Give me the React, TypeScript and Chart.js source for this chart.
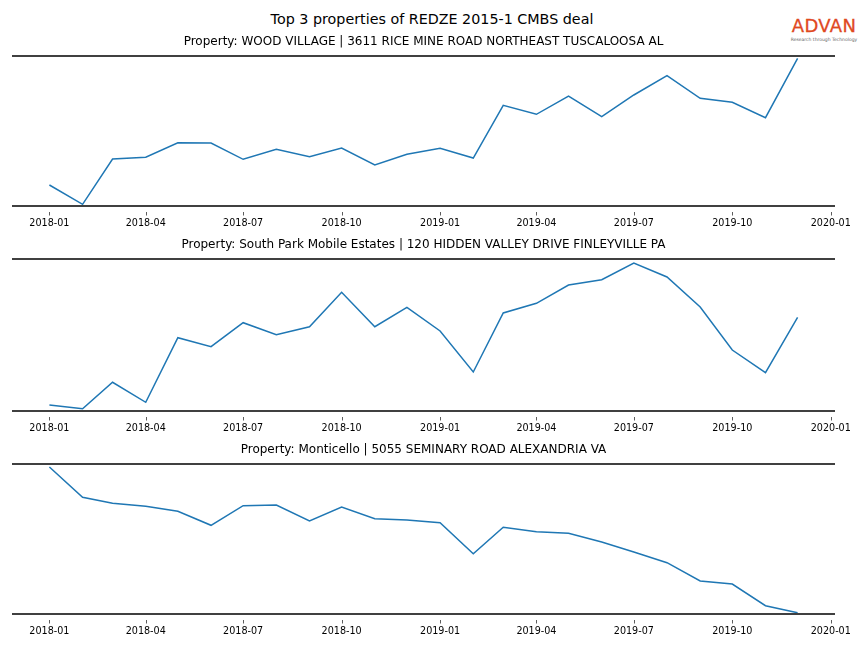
import React, { useEffect, useRef } from "react";
import { Chart, registerables } from "chart.js";

Chart.register(...registerables);

const months = [
  "2018-01", "2018-02", "2018-03", "2018-04", "2018-05", "2018-06",
  "2018-07", "2018-08", "2018-09", "2018-10", "2018-11", "2018-12",
  "2019-01", "2019-02", "2019-03", "2019-04", "2019-05", "2019-06",
  "2019-07", "2019-08", "2019-09", "2019-10", "2019-11", "2019-12",
];

const woodVillage = [
  21, 1.7, 47, 48.7, 63.3, 63, 46.7, 56.7, 49.3, 58, 41, 51.7,
  57.7, 48, 100.7, 91.7, 110, 89.3, 111, 130.3, 107.7, 103.7, 88.3, 147.7,
];

const southPark = [
  6, 2.3, 28.7, 8.7, 73.3, 64.3, 88.3, 76.3, 84.3, 118.7, 84.3, 103.7,
  80, 39, 98, 107.7, 126, 131.3, 148, 134, 104, 61, 38.3, 93.7,
];

const monticello = [
  147, 116.7, 110.7, 107.7, 102.7, 88.7, 108.3, 109, 93, 107, 95.3, 94,
  91.3, 60.3, 86.7, 82.3, 80.7, 72, 62, 51.3, 33, 30, 8.3, 1.3,
];

const tickLabels = [
  "2018-01", "2018-04", "2018-07", "2018-10", "2019-01",
  "2019-04", "2019-07", "2019-10", "2020-01",
];

const panelTitles = [
  "Property: WOOD VILLAGE | 3611 RICE MINE ROAD NORTHEAST TUSCALOOSA AL",
  "Property: South Park Mobile Estates | 120 HIDDEN VALLEY DRIVE FINLEYVILLE PA",
  "Property: Monticello | 5055 SEMINARY ROAD ALEXANDRIA VA",
];

const mainTitle = "Top 3 properties of REDZE 2015-1 CMBS deal";

const seriesList = [woodVillage, southPark, monticello];
const yRanges = [
  [0, 150],
  [0, 152],
  [0, 150],
];

const FONT = "'DejaVu Sans', sans-serif";

function dayNum(s: string): number {
  const [y, m] = s.split("-").map(Number);
  return Date.UTC(y, m - 1, 1) / 86400000;
}

const firstDay = dayNum(months[0]);
const lastDay = dayNum(months[months.length - 1]);
const margin = (lastDay - firstDay) * 0.05;
const xMin = firstDay - margin;
const xMax = lastDay + margin;
const tickValues = tickLabels.map(dayNum);

const decorPlugin = {
  id: "decor",
  afterDraw(chart: any) {
    const { ctx, chartArea } = chart;
    const xs = chart.scales.x;
    ctx.save();
    ctx.strokeStyle = "#404040";
    ctx.lineWidth = 1.8;
    ctx.beginPath();
    ctx.moveTo(chartArea.left, chartArea.top);
    ctx.lineTo(chartArea.right, chartArea.top);
    ctx.moveTo(chartArea.left, chartArea.bottom);
    ctx.lineTo(chartArea.right, chartArea.bottom);
    ctx.stroke();
    ctx.strokeStyle = "#333333";
    ctx.lineWidth = 0.8;
    ctx.beginPath();
    for (const v of tickValues) {
      const px = Math.round(xs.getPixelForValue(v)) + 0.5;
      ctx.moveTo(px, chartArea.bottom + 6);
      ctx.lineTo(px, chartArea.bottom + 9.5);
    }
    ctx.stroke();
    ctx.restore();
  },
};

function Panel({ index, top, plotHeight }: { index: number; top: number; plotHeight: number }) {
  const ref = useRef<HTMLCanvasElement | null>(null);
  const height = 21 + plotHeight + 24;
  useEffect(() => {
    if (!ref.current) return;
    const values = seriesList[index];
    const chart = new Chart(ref.current, {
      type: "line",
      data: {
        datasets: [
          {
            data: months.map((m, i) => ({ x: dayNum(m), y: values[i] })),
            borderColor: "#1f77b4",
            borderWidth: 1.5,
            pointRadius: 0,
            tension: 0,
            clip: false as any,
          },
        ],
      },
      options: {
        animation: false,
        responsive: false,
        devicePixelRatio: 1,
        layout: { padding: { left: 12, right: 29, top: 0, bottom: 0 } },
        plugins: {
          legend: { display: false },
          tooltip: { enabled: false },
          title: {
            display: true,
            text: panelTitles[index],
            color: "#000000",
            font: { family: FONT, size: 12, weight: "normal" as any, lineHeight: 1.2 },
            padding: { top: 0, bottom: 6.6 },
          },
        },
        scales: {
          x: {
            type: "linear",
            min: xMin,
            max: xMax,
            grid: { display: false, drawTicks: false },
            border: { display: false },
            afterBuildTicks: (scale: any) => {
              scale.ticks = tickValues.map((v) => ({ value: v }));
            },
            afterFit: (scale: any) => {
              scale.height = 24;
            },
            ticks: {
              autoSkip: false,
              maxRotation: 0,
              minRotation: 0,
              padding: 11.5,
              color: "#000000",
              font: { family: FONT, size: 9.6 },
              callback: (v: any) => {
                const i = tickValues.indexOf(Number(v));
                return i >= 0 ? tickLabels[i] : "";
              },
            },
          },
          y: {
            display: false,
            min: yRanges[index][0],
            max: yRanges[index][1],
          },
        },
      },
      plugins: [decorPlugin],
    });
    return () => chart.destroy();
  }, [index, plotHeight]);
  return (
    <canvas
      ref={ref}
      width={864}
      height={height}
      style={{ position: "absolute", left: 0, top, width: 864, height }}
    />
  );
}

export default function App() {
  return (
    <div
      style={{
        position: "absolute",
        left: 0,
        top: 0,
        width: 864,
        height: 648,
        background: "#ffffff",
        overflow: "hidden",
      }}
    >
      <div
        style={{
          position: "absolute",
          left: 0,
          top: 10,
          width: 864,
          textAlign: "center",
          fontFamily: FONT,
          fontSize: 14.3,
          lineHeight: "18px",
          color: "#000",
        }}
      >
        {mainTitle}
      </div>
      <div
        style={{
          position: "absolute",
          left: 788,
          top: 15,
          width: 72,
          textAlign: "center",
          fontFamily: FONT,
        }}
      >
        <div style={{ color: "#E0491F", fontSize: 18, lineHeight: "22px", letterSpacing: 0.3, fontWeight: 500, WebkitTextStroke: "0.3px #E0491F" }}>ADVAN</div>
        <div style={{ color: "#666", fontSize: 4.5, lineHeight: "5px", whiteSpace: "nowrap" }}>
          Research through Technology
        </div>
      </div>
      <Panel index={0} top={35} plotHeight={150} />
      <Panel index={1} top={238} plotHeight={152} />
      <Panel index={2} top={443} plotHeight={150} />
    </div>
  );
}
